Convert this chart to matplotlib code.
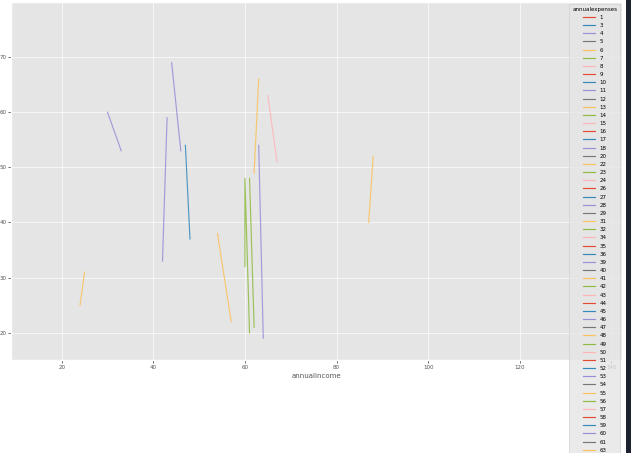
import matplotlib
matplotlib.use('Agg')
import matplotlib.pyplot as plt
from matplotlib.patches import Rectangle

plt.style.use('ggplot')

# hue levels shown in the legend (annualexpenses)
levels = [1, 3, 4, 5, 6, 7, 8, 9, 10, 11, 12, 13, 14, 15, 16, 17, 18, 20, 22,
          23, 24, 26, 27, 28, 29, 31, 32, 34, 35, 36, 39, 40, 41, 42, 43, 44,
          45, 46, 47, 48, 49, 50, 51, 52, 53, 54, 55, 56, 57, 58, 59, 60, 61,
          63, 65, 66, 68]

# visible line points
income = [24, 25, 30, 33, 42, 43, 44, 46, 47, 48, 54, 57,
          60, 60, 61, 61, 62, 62, 63, 63, 64, 65, 67, 87, 88]
age = [25, 31, 60, 53, 33, 59, 69, 53, 54, 37, 38, 22,
       32, 48, 20, 48, 21, 49, 66, 54, 19, 63, 51, 40, 52]
expenses = [6, 6, 4, 4, 60, 60, 46, 46, 45, 45, 41, 41,
            49, 49, 49, 42, 42, 48, 48, 53, 53, 50, 50, 13, 13]

xticks = [20, 40, 60, 80, 100, 120, 140]
yticks = [20, 30, 40, 50, 60, 70]

W, H = 631, 453
fig = plt.figure(figsize=(W / 100, H / 100), dpi=100)
fig.patch.set_facecolor('white')
ax = fig.add_axes([11.3 / W, 1 - 360 / H, (622 - 11.3) / W, (360 - 2) / H])
ax.grid(True, color='white', linewidth=0.6, alpha=0.8)

colors = plt.rcParams['axes.prop_cycle'].by_key()['color']
for i, lv in enumerate(levels):
    xs = [x for x, e in zip(income, expenses) if e == lv]
    ys = [y for y, e in zip(age, expenses) if e == lv]
    ax.plot(xs, ys, color=colors[i % len(colors)], lw=0.85, alpha=0.85,
            label=str(lv))

ax.set_xlim(9.0, 142.3)
ax.set_ylim(15.05, 80)
ax.set_xticks(xticks)
ax.set_yticks(yticks)
ax.tick_params(labelsize=4, length=2, pad=1.5, width=0.6)
ax.set_xlabel('annualincome', fontsize=5, labelpad=2)

leg = ax.legend(title='annualexpenses', loc='upper right', fontsize=4,
                title_fontsize=4, labelspacing=0.57, handlelength=2.2,
                borderaxespad=0.3, borderpad=0.55)
for h in leg.legend_handles:
    h.set_alpha(1.0)

fig.patches.append(Rectangle((626 / W, 0), 5 / W, 1, transform=fig.transFigure,
                             facecolor='#1d2331', edgecolor='none', zorder=10))

fig.savefig('out.png', dpi=100)
